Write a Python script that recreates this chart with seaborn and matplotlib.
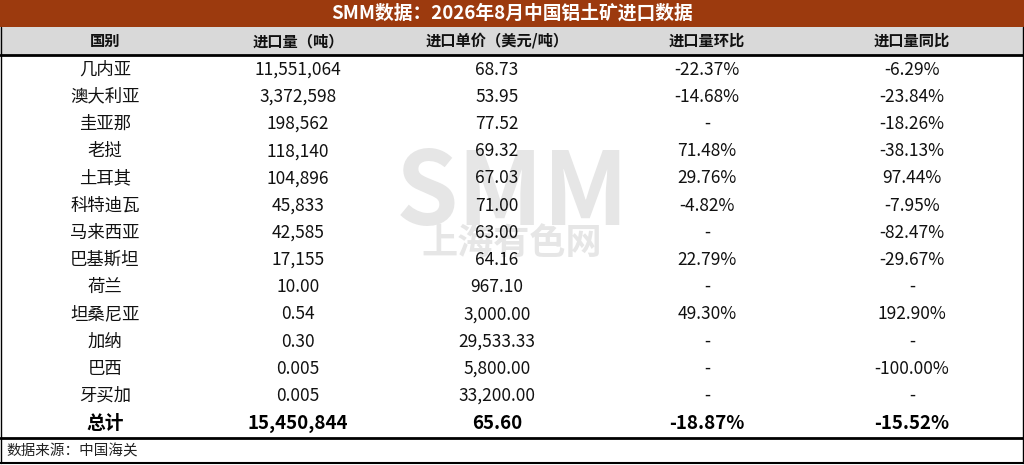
import matplotlib.pyplot as plt
import seaborn as sns

sns.set_theme(style="white")
plt.rcParams['font.family'] = ['Noto Sans CJK SC', 'DejaVu Sans']

title = "SMM数据：2026年8月中国铝土矿进口数据"
headers = ["国别", "进口量（吨）", "进口单价（美元/吨）", "进口量环比", "进口量同比"]
countries = ["几内亚", "澳大利亚", "圭亚那", "老挝", "土耳其", "科特迪瓦", "马来西亚",
             "巴基斯坦", "荷兰", "坦桑尼亚", "加纳", "巴西", "牙买加"]
volume = ["11,551,064", "3,372,598", "198,562", "118,140", "104,896", "45,833", "42,585",
          "17,155", "10.00", "0.54", "0.30", "0.005", "0.005"]
price = ["68.73", "53.95", "77.52", "69.32", "67.03", "71.00", "63.00",
         "64.16", "967.10", "3,000.00", "29,533.33", "5,800.00", "33,200.00"]
mom = ["-22.37%", "-14.68%", "-", "71.48%", "29.76%", "-4.82%", "-",
       "22.79%", "-", "49.30%", "-", "-", "-"]
yoy = ["-6.29%", "-23.84%", "-18.26%", "-38.13%", "97.44%", "-7.95%", "-82.47%",
       "-29.67%", "-", "192.90%", "-", "-100.00%", "-"]
total = ["总计", "15,450,844", "65.60", "-18.87%", "-15.52%"]
source = "数据来源：中国海关"

W, H = 1024, 465
fig = plt.figure(figsize=(W / 100, H / 100), dpi=100)
ax = fig.add_axes([0, 0, 1, 1])
ax.set_xlim(0, W)
ax.set_ylim(H, 0)
ax.axis("off")

col_x = [105, 298, 497, 707, 912]
title_h, head_top, head_bot = 27, 27, 55
row_h = 27.2
body_top = 56

# title bar and header
ax.add_patch(plt.Rectangle((0, 0), W, title_h, color="#9C3A0E", lw=0))
ax.text(W / 2, title_h / 2, title, color="white", fontsize=13.5, fontweight="bold",
        ha="center", va="center")
ax.add_patch(plt.Rectangle((0, head_top), W, head_bot - head_top, color="#D9D9D9", lw=0))
for x, h in zip(col_x, headers):
    ax.text(x, (head_top + head_bot) / 2, h, fontsize=11, fontweight="bold",
            ha="center", va="center", color="#111111")
ax.plot([0, W], [head_bot + 0.5, head_bot + 0.5], color="black", lw=2)

# watermark
ax.text(512, 195, "SMM", fontsize=72, fontweight="bold", color="#E6E6E6",
        ha="center", va="center", zorder=0)
ax.text(512, 243, "上海有色网", fontsize=26, fontweight="bold", color="#E6E6E6",
        ha="center", va="center", zorder=0)

rows = list(zip(countries, volume, price, mom, yoy))
for i, row in enumerate(rows):
    yc = body_top + row_h * (i + 0.5)
    for x, v in zip(col_x, row):
        ax.text(x, yc, v, fontsize=12.5, ha="center", va="center", color="#111111")

yc = body_top + row_h * (len(rows) + 0.5)
for x, v in zip(col_x, total):
    ax.text(x, yc, v, fontsize=13.5, fontweight="bold", ha="center", va="center", color="black")

y_end = body_top + row_h * (len(rows) + 1) + 1
ax.plot([0, W], [y_end, y_end], color="black", lw=2)
ax.text(6, (y_end + H) / 2, source, fontsize=10.5, style="italic", ha="left", va="center",
        color="#222222")
ax.plot([0, W], [H - 2, H - 2], color="black", lw=1.5)
ax.plot([1, 1], [title_h, H - 2], color="black", lw=1)
ax.plot([W - 1, W - 1], [title_h, H - 2], color="black", lw=1)

fig.savefig("out.png", dpi=100)
